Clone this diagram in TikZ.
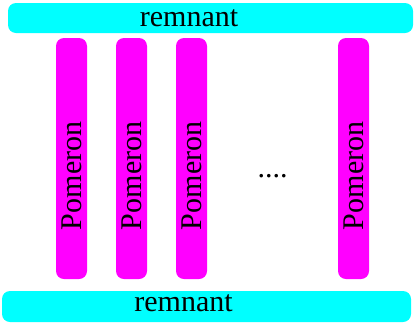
\documentclass[tikz,border=0pt]{standalone}
\usepackage{fontspec}
\setmainfont{Liberation Serif}
\definecolor{remnantcol}{RGB}{0,255,255}
\definecolor{pomeroncol}{RGB}{255,0,255}
\begin{document}
\begin{tikzpicture}[x=1pt,y=-1pt,
  remnantbar/.style={fill=remnantcol,draw=none,rounded corners=8pt},
  pomeronbar/.style={fill=pomeroncol,draw=none,rounded corners=8pt},
  lbl/.style={font=\fontsize{30}{30}\selectfont,inner sep=0pt,outer sep=0pt}]
\useasboundingbox (0,0) rectangle (414,322);
% remnant bars
\path[remnantbar] (8,3) rectangle (413,33);
\path[remnantbar] (2,291) rectangle (411,322);
\node[lbl,anchor=base] (rtop) at (189,26) {remnant};
\node[lbl,anchor=base] (rbot) at (183.5,311) {remnant};
% pomeron columns
\foreach \x/\n in {56/p1,116/p2,176/p3,338/p4}{
  \path[pomeronbar] (\x,38) rectangle (\x+31,279);
  \node[lbl,rotate=90,anchor=base west] (\n) at (\x+25,230) {Pomeron};
}
\node[lbl,anchor=base] (dots) at (272.5,177) {....};
\end{tikzpicture}
\end{document}
